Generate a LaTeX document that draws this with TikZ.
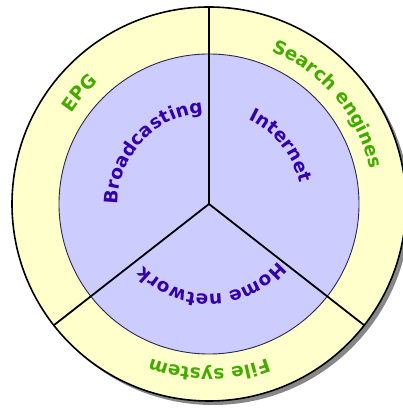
\documentclass[tikz,border=0pt]{standalone}
\usepackage{fontspec}
\setmainfont{DejaVu Sans}
\usetikzlibrary{decorations.text,calc}
\definecolor{ringyellow}{RGB}{255,255,204}
\definecolor{corelav}{RGB}{204,204,255}
\definecolor{innertext}{RGB}{51,0,170}
\definecolor{outertext}{RGB}{68,170,0}
\definecolor{shadowgray}{RGB}{135,135,135}
\definecolor{coreedge}{RGB}{40,40,80}
\tikzset{
  divider/.style={line width=1.8pt, draw=black},
  inlabel/.style={decorate, decoration={text along path, text align=center,
      text={|\fontsize{18.5}{21}\selectfont\bfseries\color{innertext}|#1}}},
  outlabel/.style={decorate, decoration={text along path, text align=center,
      text={|\fontsize{18.5}{21}\selectfont\bfseries\color{outertext}|#1}}},
}
\begin{document}
\begin{tikzpicture}[x=1pt,y=1pt]
\useasboundingbox (0,0) rectangle (403,414);
\fill[white] (0,0) rectangle (403,414);
\coordinate (c) at (209,210);
% shadow
\fill[shadowgray] ($(c)+(4,-4)$) circle[radius=197];
% outer ring
\filldraw[fill=ringyellow, draw=black, line width=1.6pt] (c) circle[radius=197];
% inner core
\filldraw[fill=corelav, draw=coreedge, line width=0.9pt] (c) circle[radius=150];
% dividers
\coordinate (top) at ($(c)+(90:197)$);
\coordinate (left) at ($(c)+(218:197)$);
\coordinate (right) at ($(c)+(322:197)$);
\draw[divider] (c) -- (top);
\draw[divider] (c) -- (left);
\draw[divider] (c) -- (right);
% inner labels
\path[inlabel={Broadcasting}] (c) ++(207:91) arc[start angle=207, end angle=67, radius=91];
\path[inlabel={Internet}] (c) ++(109:93) arc[start angle=109, end angle=-31, radius=93];
\path[inlabel={Home network}] (c) ++(342:90) arc[start angle=342, end angle=202, radius=90];
% outer labels
\path[outlabel={EPG}] (c) ++(190:165) arc[start angle=190, end angle=89, radius=165];
\path[outlabel={Search engines}] (c) ++(100:165) arc[start angle=100, end angle=-20, radius=165];
\path[outlabel={File system}] (c) ++(320:165) arc[start angle=320, end angle=220, radius=165];
\end{tikzpicture}
\end{document}
